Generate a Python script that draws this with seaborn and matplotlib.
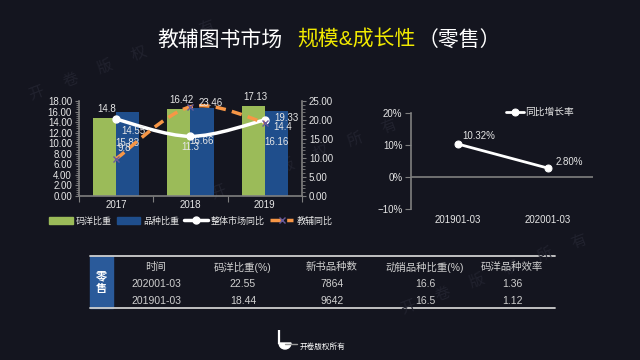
# 教辅图书市场 规模&成长性（零售）
import matplotlib
matplotlib.use("Agg")
import matplotlib.pyplot as plt
import pandas as pd
import seaborn as sns
from matplotlib.path import Path
from matplotlib.patches import PathPatch, Rectangle, Patch, Wedge
from matplotlib.lines import Line2D
from matplotlib.ticker import AutoMinorLocator, MultipleLocator, FixedLocator, FormatStrFormatter, PercentFormatter

# ----------------------------
# Data
# ----------------------------
years = ["2017", "2018", "2019"]
my_share = [14.8, 16.42, 17.13]      # 码洋比重
pz_share = [15.83, 16.66, 16.16]     # 品种比重
market_yoy = [14.55, 11.3, 14.4]     # 整体市场同比 (left axis)
jf_yoy = [9.8, 23.46, 19.33]         # 教辅同比 (right axis)

periods = ["201901-03", "202001-03"]
growth = [10.32, 2.80]               # 同比增长率 (%)

table_header = ["时间", "码洋比重(%)", "新书品种数", "动销品种比重(%)", "码洋品种效率"]
table_time = ["202001-03", "201901-03"]
table_my = ["22.55", "18.44"]
table_new = ["7864", "9642"]
table_dx = ["16.6", "16.5"]
table_eff = ["1.36", "1.12"]

BG = "#14151f"
GREEN = "#9bbb59"
BLUE = "#1f4e8c"
ORANGE = "#f79646"
TXT = "#e6e6e6"
AXC = "#7f7f7f"

sns.set_theme(style="dark", rc={"figure.facecolor": BG, "axes.facecolor": BG,
                                "savefig.facecolor": BG, "axes.edgecolor": AXC,
                                "text.color": TXT, "xtick.color": TXT, "ytick.color": TXT})
plt.rcParams["font.family"] = ["Liberation Sans", "Noto Sans CJK SC", "DejaVu Sans"]


def smooth_path(xs, ys):
    # bezier through the data points, like an office "smoothed line"
    pts = list(zip(xs, ys))
    n = len(pts)
    verts, codes = [pts[0]], [Path.MOVETO]
    for i in range(n - 1):
        p0, p1 = pts[max(i - 1, 0)], pts[i]
        p2, p3 = pts[i + 1], pts[min(i + 2, n - 1)]
        c1 = (p1[0] + (p2[0] - p0[0]) / 6, p1[1] + (p2[1] - p0[1]) / 6)
        c2 = (p2[0] - (p3[0] - p1[0]) / 6, p2[1] - (p3[1] - p1[1]) / 6)
        verts += [c1, c2, p2]
        codes += [Path.CURVE4] * 3
    return Path(verts, codes)


fig = plt.figure(figsize=(6.4, 3.6), dpi=100)

# ----------------------------
# Overlay (title, table, watermark)
# ----------------------------
ov = fig.add_axes([0, 0, 1, 1], zorder=-1)
ov.set_xlim(0, 640)
ov.set_ylim(360, 0)
ov.axis("off")

wm = "     ".join("开卷版权所有")
for sx, sy in [(30, 96), (212, 195), (402, 310)]:
    ov.text(sx, sy, wm, fontsize=11, color="#21222e",
            rotation=21, rotation_mode="anchor", ha="left", va="center")

ov.text(157, 40, "教辅图书市场", fontsize=15, color="white", va="center", ha="left")
ov.text(297, 40, "规模&成长性", fontsize=15, color="#f2ea00", va="center", ha="left")
ov.text(418, 40, "（零售）", fontsize=15, color="white", va="center", ha="left")

# table
ov.add_patch(Rectangle((90, 256), 23, 52, color="#2a5a9a", zorder=1))
ov.text(101.5, 276, "零", fontsize=8, color="white", ha="center", va="center", weight="bold")
ov.text(101.5, 289, "售", fontsize=8, color="white", ha="center", va="center", weight="bold")
ov.plot([90, 555], [256, 256], color="#cfcfcf", lw=1.3)
ov.plot([90, 555], [308, 308], color="#cfcfcf", lw=1.3)
col_x = [156, 243, 332, 425, 512]
for cx, h in zip(col_x, table_header):
    ov.text(cx, 267, h, fontsize=7.5, color="#d0d0d0", ha="center", va="center")
for ry, row in zip([284, 301], zip(table_time, table_my, table_new, table_dx, table_eff)):
    for cx, v in zip(col_x, row):
        ov.text(cx, ry, v, fontsize=7.5, color="#d0d0d0", ha="center", va="center")

# footer logo + text
ov.plot([279, 279], [330, 344], color="white", lw=1.6, solid_capstyle="butt")
ov.add_patch(Wedge((285, 343), 6, 0, 180, color="white"))
ov.plot([285, 297], [344, 344], color="#9a9a9a", lw=1.0)
ov.text(300, 347, "开卷版权所有", fontsize=5.5, color="white", ha="left", va="center")

# ----------------------------
# Left chart: bars + yoy lines
# ----------------------------
ax = fig.add_axes([0.1234, 0.4556, 0.3484, 0.2639])
ax.set_facecolor("none")
df = pd.DataFrame({"year": years * 2, "value": my_share + pz_share,
                   "kind": ["码洋比重"] * 3 + ["品种比重"] * 3})
sns.barplot(data=df, x="year", y="value", hue="kind", palette=[GREEN, BLUE],
            width=0.62, saturation=1, legend=False, linewidth=0, ax=ax, zorder=2)
bars = list(ax.patches)
for p, v in zip(bars[:3], my_share):
    ax.annotate(f"{v:g}", (p.get_x() + p.get_width() / 2, v), xytext=(2, 9),
                textcoords="offset pixels", ha="center", va="center", fontsize=7, color=TXT)
for p, v in zip(bars[3:], pz_share):
    ax.annotate(f"{v:g}", (p.get_x() + p.get_width() / 2, v * 0.63), xytext=(0, 0),
                textcoords="offset pixels", ha="center", va="center", fontsize=7, color=TXT)

xs = list(range(len(years)))
ax.add_patch(PathPatch(smooth_path(xs, market_yoy), fill=False, ec="white", lw=2.5, zorder=4))
ax.plot(xs, market_yoy, ls="none", marker="o", ms=5, color="white", zorder=5)
for x, v, off in zip(xs, market_yoy, [(17, -12), (0, -11), (18, -7)]):
    ax.annotate(f"{v:g}", (x, v), xytext=off, textcoords="offset pixels",
                ha="center", va="center", fontsize=7, color=TXT, zorder=6)

ax.set_xlim(-0.5, 2.5)
ax.set_ylim(0, 18)
ax.yaxis.set_major_locator(MultipleLocator(2))
ax.yaxis.set_major_formatter(FormatStrFormatter("%.2f"))
ax.yaxis.set_minor_locator(AutoMinorLocator(5))
ax.xaxis.set_minor_locator(FixedLocator([-0.5, 0.5, 1.5, 2.5]))
ax.tick_params(axis="y", which="major", labelsize=7, length=3, width=0.8, color=AXC, pad=2, left=True)
ax.tick_params(axis="y", which="minor", length=2, width=0.6, color=AXC, left=True)
ax.tick_params(axis="x", which="major", labelsize=7, length=0, pad=3)
ax.tick_params(axis="x", which="minor", length=4, width=0.8, color=AXC, bottom=True)
ax.set_xlabel("")
ax.set_ylabel("")
ax.grid(False)
for s in ["top", "right"]:
    ax.spines[s].set_visible(False)
for s in ["left", "bottom"]:
    ax.spines[s].set_color(AXC)
    ax.spines[s].set_linewidth(1.2)

ax2 = ax.twinx()
ax2.set_facecolor("none")
ax2.add_patch(PathPatch(smooth_path(xs, jf_yoy), fill=False, ec=ORANGE, lw=2.5,
                        ls=(0, (3, 1.8)), zorder=3))
ax2.plot(xs, jf_yoy, ls="none", marker="x", ms=4, mew=1, color="#6a5a9a", zorder=4)
for x, v, off in zip(xs, jf_yoy, [(8, 11), (20, 4), (22, 5)]):
    ax2.annotate(f"{v:g}", (x, v), xytext=off, textcoords="offset pixels",
                 ha="center", va="center", fontsize=7, color=TXT)
ax2.set_ylim(0, 25)
ax2.yaxis.set_major_locator(MultipleLocator(5))
ax2.yaxis.set_major_formatter(FormatStrFormatter("%.2f"))
ax2.yaxis.set_minor_locator(AutoMinorLocator(5))
ax2.tick_params(axis="y", which="major", labelsize=7, length=3, width=0.8, color=AXC, pad=2, right=True)
ax2.tick_params(axis="y", which="minor", length=2, width=0.6, color=AXC, right=True)
ax2.grid(False)
for s in ["top", "left", "bottom"]:
    ax2.spines[s].set_visible(False)
ax2.spines["right"].set_color(AXC)
ax2.spines["right"].set_linewidth(1.2)

handles = [Patch(color=GREEN), Patch(color=BLUE),
           Line2D([], [], color="white", lw=2.5, marker="o", ms=5),
           Line2D([], [], color=ORANGE, lw=2.5, ls=(0, (3, 1.8)), marker="x", ms=4, mec="#6a5a9a")]
fig.legend(handles, ["码洋比重", "品种比重", "整体市场同比", "教辅同比"], loc="center",
           bbox_to_anchor=(0.298, 0.386), ncol=4, fontsize=6.5, frameon=False,
           handlelength=2.6, handletextpad=0.3, columnspacing=0.6, labelcolor=TXT)

# ----------------------------
# Right chart: yoy growth
# ----------------------------
ax3 = fig.add_axes([0.642, 0.4194, 0.284, 0.2667])
ax3.set_facecolor("none")
sns.lineplot(x=[0, 1], y=growth, ax=ax3, color="white", lw=2, marker="o", ms=5,
             mec="white", label="同比增长率")
for x, v, off in zip([0, 1], growth, [(21, 8), (22, 6)]):
    ax3.annotate(f"{v:.2f}%", (x, v), xytext=off, textcoords="offset pixels",
                 ha="center", va="center", fontsize=7, color=TXT)
ax3.axhline(0, color=AXC, lw=1.2, zorder=1)
ax3.set_xlim(-0.52, 1.5)
ax3.set_ylim(-10, 20)
ax3.set_xticks([0, 1])
ax3.set_xticklabels(periods)
ax3.yaxis.set_major_locator(MultipleLocator(10))
ax3.yaxis.set_major_formatter(PercentFormatter(decimals=0))
ax3.tick_params(axis="y", labelsize=7, length=4, width=0.8, color=AXC, pad=2, left=True)
ax3.tick_params(axis="x", labelsize=7, length=0, pad=4)
ax3.grid(False)
for s in ["top", "right", "bottom"]:
    ax3.spines[s].set_visible(False)
ax3.spines["left"].set_color(AXC)
ax3.spines["left"].set_linewidth(1.2)
ax3.legend(loc="center", bbox_to_anchor=(0.844, 0.689), bbox_transform=fig.transFigure,
           frameon=False, fontsize=7, handlelength=1.8, handletextpad=0.2, labelcolor=TXT)

fig.savefig("out.png", dpi=100)
